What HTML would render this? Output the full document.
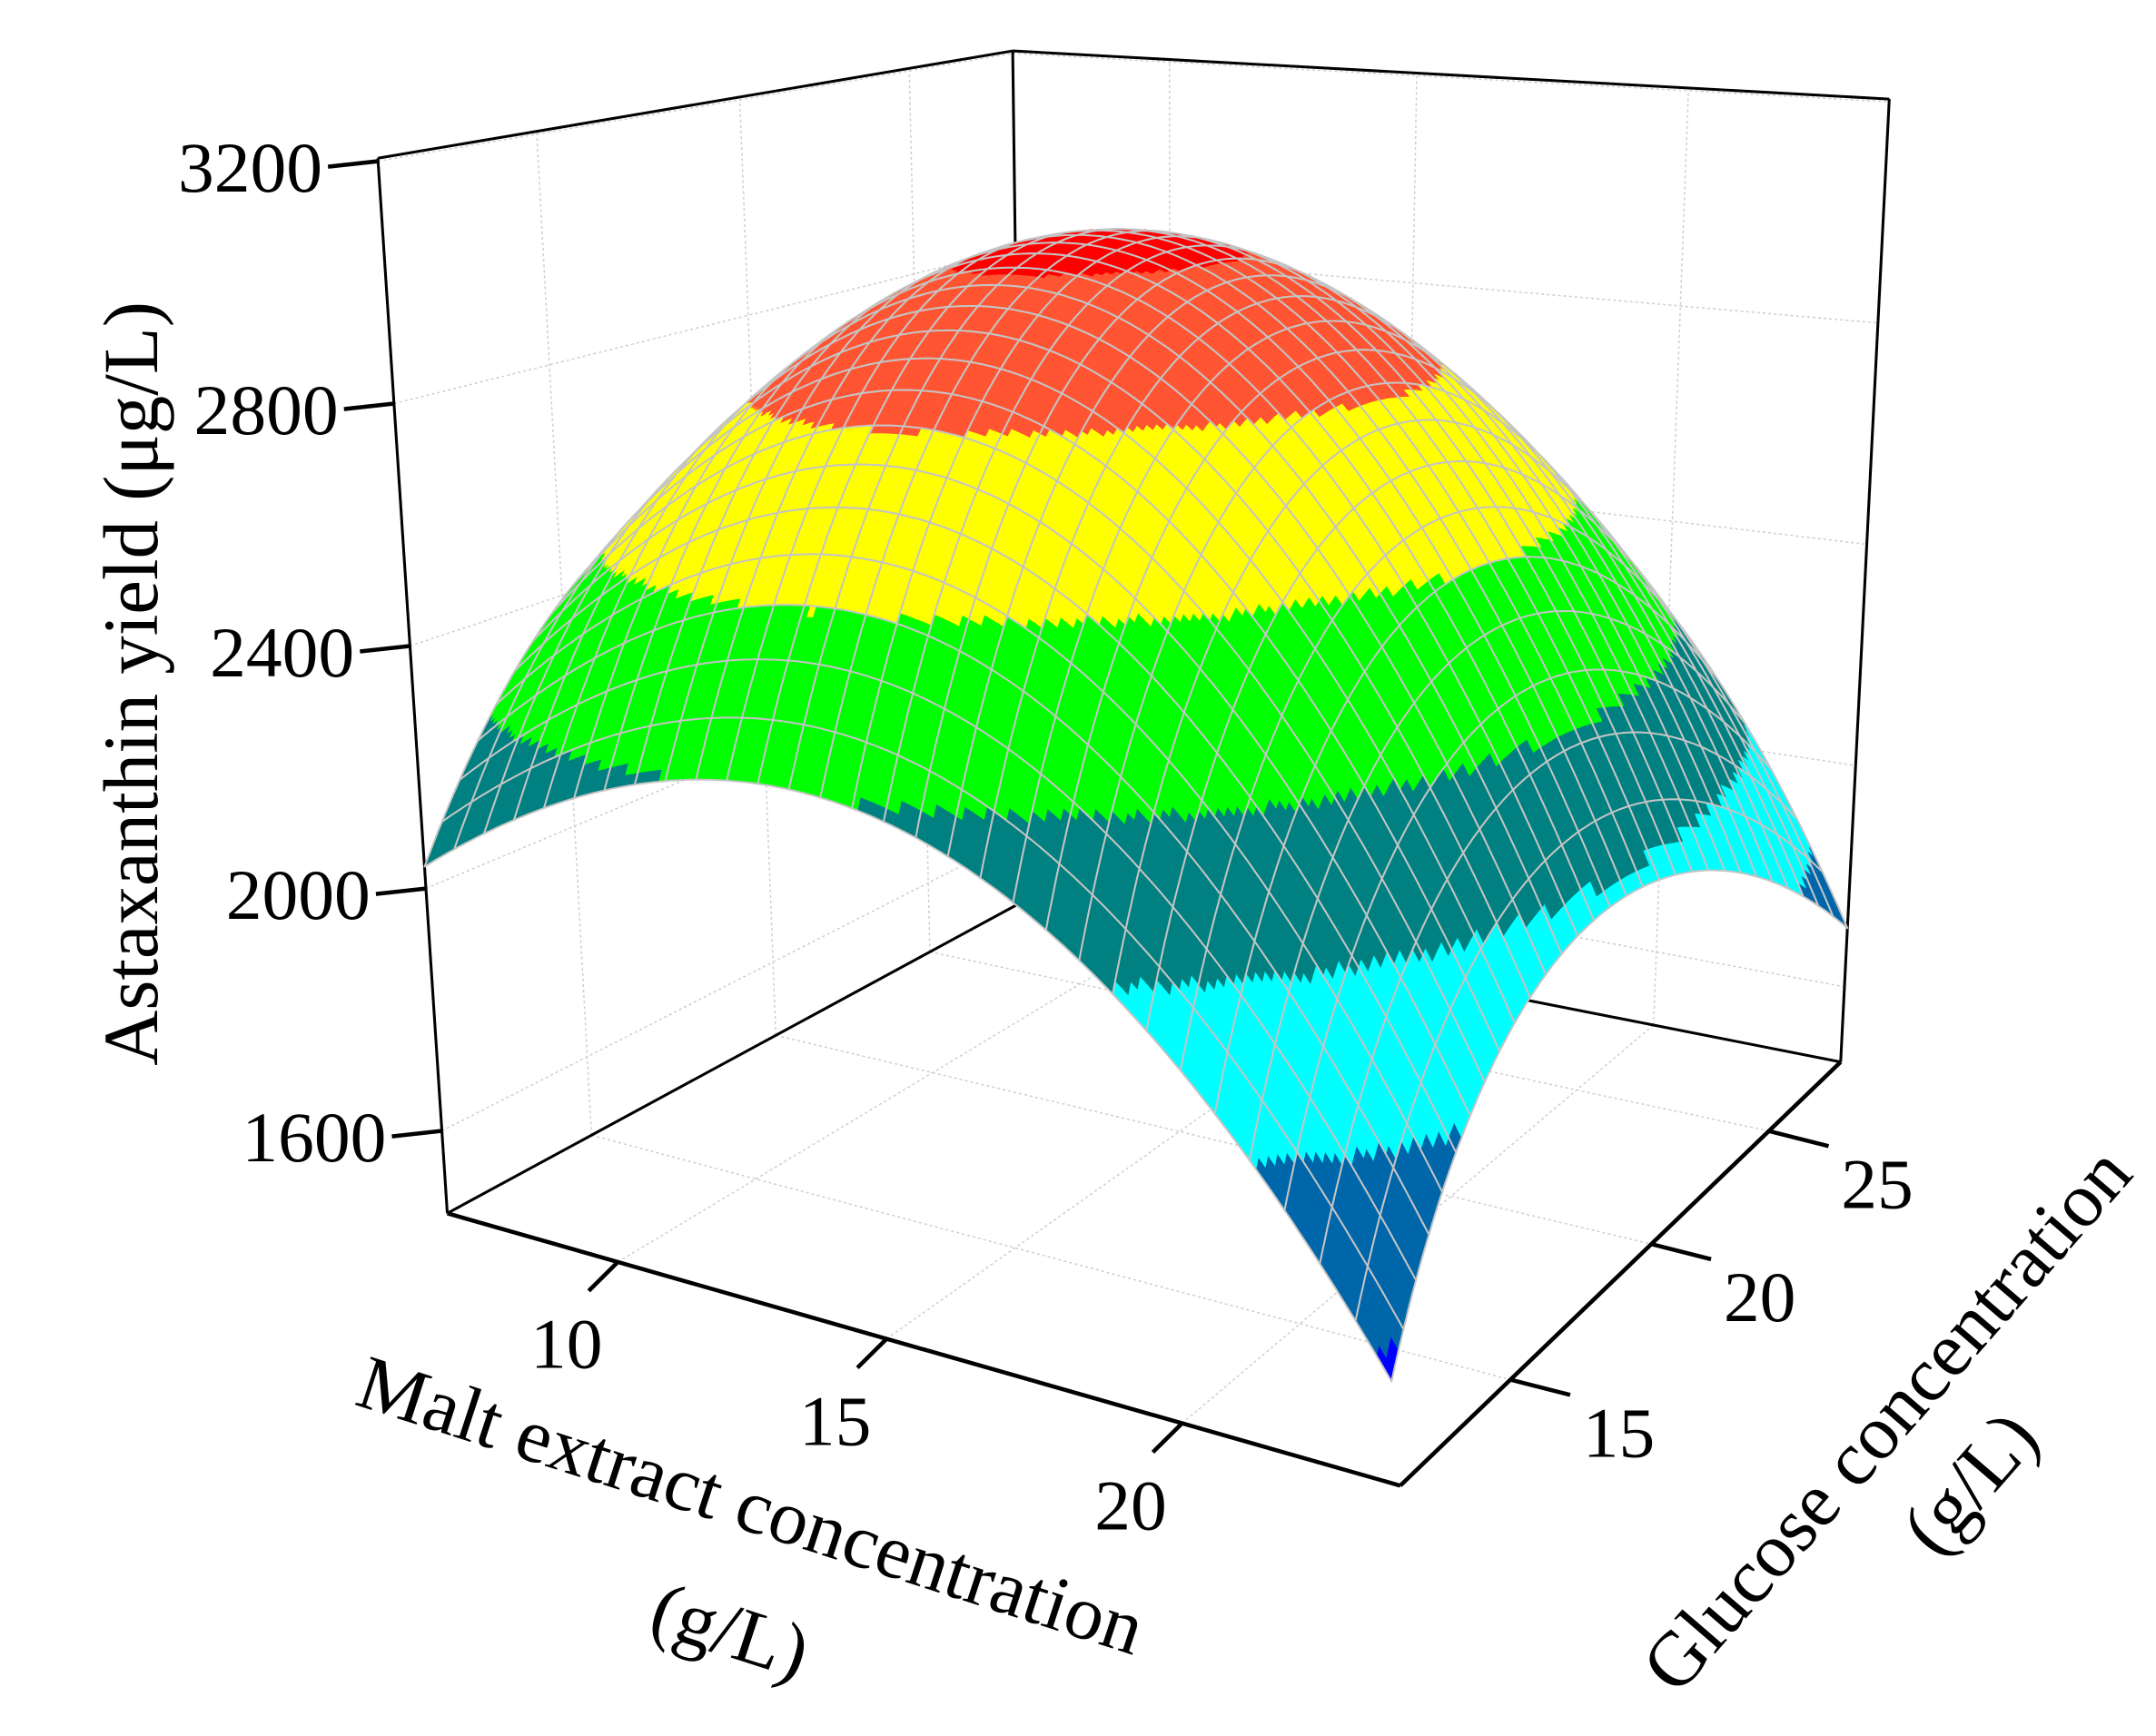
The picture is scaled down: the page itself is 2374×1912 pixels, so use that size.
<!DOCTYPE html>
<html><head><meta charset="utf-8"><style>
html,body{margin:0;padding:0;background:#fff;}
svg{display:block;}
text{font-family:"Liberation Serif","DejaVu Serif",serif;fill:#000;}
</style></head><body>
<svg id="s" xmlns="http://www.w3.org/2000/svg" width="2374" height="1912" viewBox="0 0 1552 1262" preserveAspectRatio="none">
<rect width="1552" height="1262" fill="#fff"/>
<g id="walls"></g>
<g id="surf"></g>
<g id="axes"></g>
<text x="0" y="0" font-size="56" text-anchor="middle" transform="translate(113,497) rotate(-90)">Astaxanthin yield (μg/L)</text>
<text x="0" y="0" font-size="56" text-anchor="middle" transform="translate(535,1112) rotate(18)">Malt extract concentration</text>
<text x="0" y="0" font-size="56" text-anchor="middle" transform="translate(520,1203) rotate(18)">(g/L)</text>
<text x="0" y="0" font-size="56" text-anchor="middle" transform="translate(1372,1044) rotate(-49)">Glucose concentration</text>
<text x="0" y="0" font-size="56" text-anchor="middle" transform="translate(1432,1090) rotate(-49)">(g/L)</text>
</svg>
<script>
(function(){
var F=[[322,882],[1008,1080],[1325,772],[737,655]];
var T=[[272,115],[925,80],[1360,72],[729,37]];
var Z0=1464, ZR=1741;
function bil(A,s,t){
  var a=(1-s)*(1-t), b=s*(1-t), c=s*t, d=(1-s)*t;
  return [a*A[0][0]+b*A[1][0]+c*A[2][0]+d*A[3][0], a*A[0][1]+b*A[1][1]+c*A[2][1]+d*A[3][1]];
}
function P(s,t,z){
  var w=(z-Z0)/ZR, b=bil(F,s,t), u=bil(T,s,t);
  return [b[0]+(u[0]-b[0])*w, b[1]+(u[1]-b[1])*w];
}
function f2(p){return p[0].toFixed(1)+','+p[1].toFixed(1);}
var G=[[2036,2520,2080],[2220,2950,2520],[1596,2010,1706]];
function L(x){return [x*(x-1)/2,1-x*x,x*(x+1)/2];}
function Z(s,t){var u=2*s-1,v=2*t-1,a=L(u),b=L(v),z=0;
  for(var i=0;i<3;i++)for(var j=0;j<3;j++)z+=a[i]*b[j]*G[i][j];return z;}
var th=[1630,1835,2040,2240,2480,2725,2935];
var cols=['#0000ff','#0066aa','#00ffff','#008080','#00ff00','#ffff00','#ff5533','#ff0000'];
function col(z){for(var i=0;i<th.length;i++){if(z<th[i])return cols[i];}return cols[cols.length-1];}
var N=30, SUB=5, M=N*SUB;
var pts=[];
for(var i=0;i<=M;i++){pts[i]=[];for(var j=0;j<=M;j++){var s=i/M,t=j/M;pts[i][j]=P(s,t,Z(s,t));}}
var cells=[];
for(var i=0;i<N;i++)for(var j=0;j<N;j++)cells.push([i,j]);
cells.sort(function(a,b){return (a[0]-a[1])-(b[0]-b[1]) || (a[0]+a[1])-(b[0]+b[1]);});
var out=[];
cells.forEach(function(c){
  var I=c[0]*SUB,J=c[1]*SUB;
  for(var a=0;a<SUB;a++)for(var b=0;b<SUB;b++){
    var i=I+a,j=J+b;
    var z=Z((i+0.5)/M,(j+0.5)/M), cl=col(z);
    out.push('<path d="M'+f2(pts[i][j])+'L'+f2(pts[i+1][j])+'L'+f2(pts[i+1][j+1])+'L'+f2(pts[i][j+1])+'Z" fill="'+cl+'" stroke="'+cl+'" stroke-width="0.6"/>');
  }
  var d='M'+f2(pts[I][J]);
  for(var k=1;k<=SUB;k++)d+='L'+f2(pts[I+k][J]);
  for(var k=1;k<=SUB;k++)d+='L'+f2(pts[I+SUB][J+k]);
  for(var k=SUB-1;k>=0;k--)d+='L'+f2(pts[I+k][J+SUB]);
  for(var k=SUB-1;k>=0;k--)d+='L'+f2(pts[I][J+k]);
  out.push('<path d="'+d+'Z" fill="none" stroke="#c4c4c4" stroke-width="1.3" stroke-linejoin="round"/>');
});
document.getElementById('surf').innerHTML=out.join('');
var zt=[1600,2000,2400,2800,3200], mt=[0.179,0.461,0.771], gt=[0.25,0.57,0.837];
var w=[];
function ln(a,b,st){w.push('<line x1="'+a[0].toFixed(1)+'" y1="'+a[1].toFixed(1)+'" x2="'+b[0].toFixed(1)+'" y2="'+b[1].toFixed(1)+'" '+st+'/>');}
var dot='stroke="#cfcfcf" stroke-width="1" stroke-dasharray="2,2"';
zt.forEach(function(z){ln(P(0,0,z),P(0,1,z),dot);ln(P(0,1,z),P(1,1,z),dot);});
gt.forEach(function(t){ln(P(0,t,Z0),P(0,t,Z0+ZR),dot);ln(P(0,t,Z0),P(1,t,Z0),dot);});
mt.forEach(function(s){ln(P(s,1,Z0),P(s,1,Z0+ZR),dot);ln(P(s,0,Z0),P(s,1,Z0),dot);});
var bk='stroke="#000" stroke-width="2"';
ln(F[0],F[3],bk);ln(F[3],F[2],bk);ln(F[0],T[0],bk);ln(F[3],T[3],bk);ln(F[2],T[2],bk);ln(T[0],T[3],bk);ln(T[3],T[2],bk);
document.getElementById('walls').innerHTML=w.join('');
w=[];
var bk3='stroke="#000" stroke-width="3"';
ln(F[0],F[1],bk3);ln(F[1],F[2],bk3);
var lab=[];
zt.forEach(function(z){var p=P(0,0,z);var q=[p[0]-36,p[1]+4];ln(p,q,bk3);
  lab.push('<text x="'+(q[0]-4).toFixed(1)+'" y="'+(q[1]+18).toFixed(1)+'" font-size="52" text-anchor="end">'+z+'</text>');});
var ml=['10','15','20'];
mt.forEach(function(s,k){var p=P(s,0,Z0);var q=[p[0]-21,p[1]+21];ln(p,q,bk3);
  lab.push('<text x="'+(q[0]-16).toFixed(1)+'" y="'+(q[1]+56).toFixed(1)+'" font-size="52" text-anchor="middle">'+ml[k]+'</text>');});
var gl=['15','20','25'];
gt.forEach(function(t,k){var p=P(1,t,Z0);var q=[p[0]+43,p[1]+11];ln(p,q,bk3);
  lab.push('<text x="'+(q[0]+35).toFixed(1)+'" y="'+(q[1]+45).toFixed(1)+'" font-size="52" text-anchor="middle">'+gl[k]+'</text>');});
document.getElementById('axes').innerHTML=w.join('')+lab.join('');
})();
</script>
</body></html>
